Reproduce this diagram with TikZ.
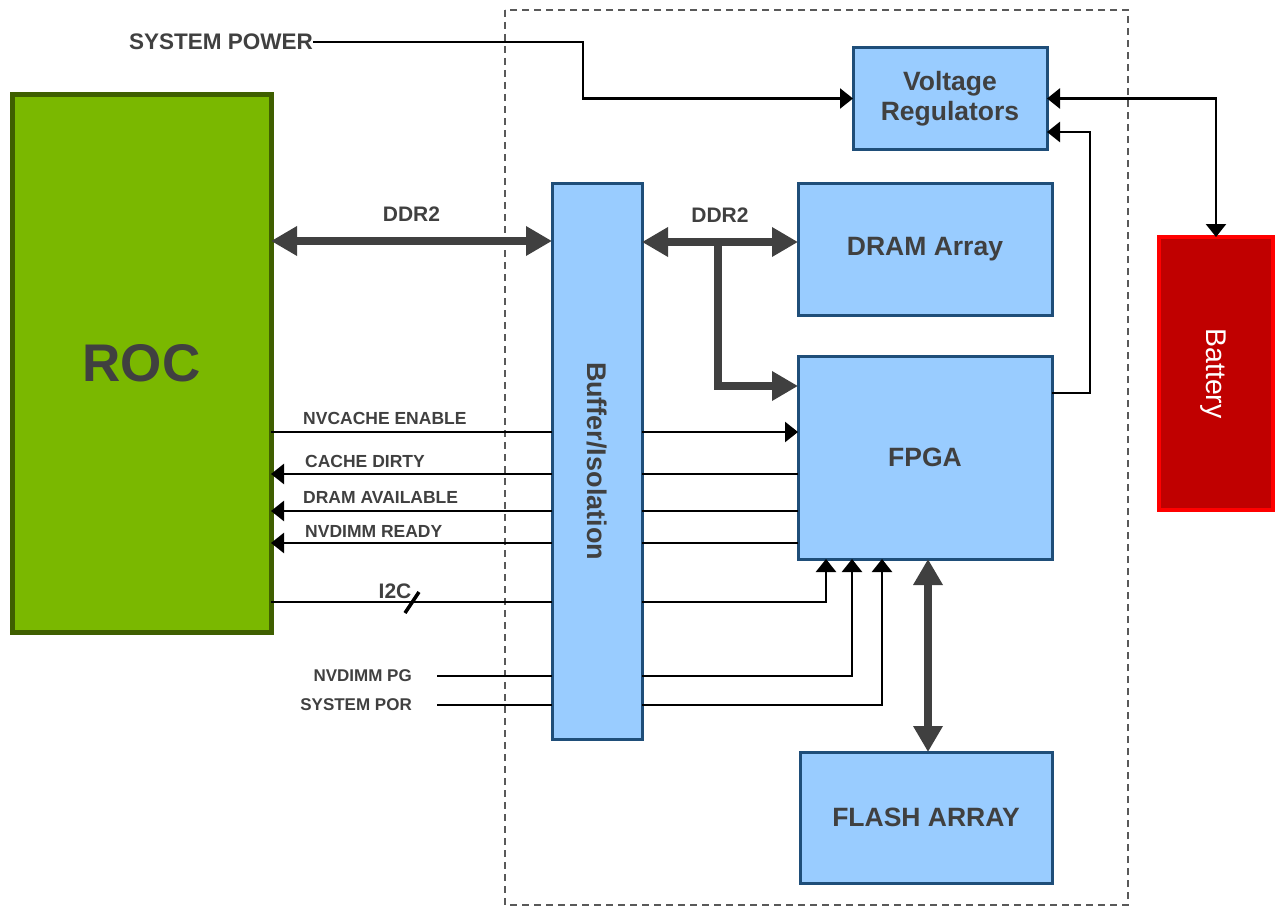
\documentclass[tikz,border=0pt]{standalone}
\usepackage{fontspec}
\setmainfont{Liberation Sans}
\usepackage{tikz}
\usetikzlibrary{arrows.meta,positioning,calc}
\usepackage{xcolor}
\definecolor{rocgreen}{HTML}{7AB800}
\definecolor{rocedge}{HTML}{3F5F00}
\definecolor{boxblue}{HTML}{99CCFF}
\definecolor{boxedge}{HTML}{1F4E79}
\definecolor{darkgray}{HTML}{404040}
\definecolor{batfill}{HTML}{C00000}
\definecolor{batedge}{HTML}{FF0000}

\begin{document}
\begin{tikzpicture}[x=1pt,y=-1pt,
  blk/.style={draw=boxedge,fill=boxblue,line width=3,inner sep=0,outer sep=0,
    text=darkgray,font=\fontsize{26.5}{30}\selectfont\bfseries,align=center},
  lbl/.style={text=darkgray,font=\fontsize{17.5}{20}\selectfont\bfseries,inner sep=0},
  sig/.style={line width=2.5,black},
  bus/.style={line width=8,darkgray,{Triangle[length=26,width=28]}-{Triangle[length=26,width=28]}},
  tip/.style={-{Triangle[length=13,width=20]}}]
  \useasboundingbox (0,0) rectangle (1275,907);

  % boundary of the module
  \draw[gray!70!black,dashed,line width=1.5,dash pattern=on 7pt off 5pt] (505,10) rectangle (1128,905);

  \node[draw=rocedge,fill=rocgreen,line width=5,inner sep=0,outer sep=0,
    minimum width=259,minimum height=537,text=darkgray,
    font=\fontsize{53}{58}\selectfont\bfseries] (roc) at (141.5,363.5) {ROC};
  \node[blk,minimum width=194,minimum height=101] (vr) at (950,98.5) {Voltage\\Regulators};
  \node[blk,minimum width=90,minimum height=556] (buf) at (597,461) {};
  \node[text=darkgray,font=\fontsize{27}{30}\selectfont\bfseries,rotate=-90] (buftext) at (buf.center) {Buffer/Isolation};
  \node[blk,minimum width=254,minimum height=132] (dram) at (925,249) {DRAM Array};
  \node[blk,minimum width=254,minimum height=203] (fpga) at (925,457.5) {FPGA};
  \node[blk,minimum width=252,minimum height=131] (flash) at (926,817.5) {FLASH ARRAY};
  \node[draw=batedge,fill=batfill,line width=4,inner sep=0,outer sep=0,
    minimum width=114,minimum height=273] (bat) at (1216,373.5) {};
  \node[text=white,font=\fontsize{28.5}{30}\selectfont,rotate=-90] (battext) at ($(bat.center)+(-3,0)$) {Battery};

  % power
  \node[lbl,anchor=east,font=\fontsize{22.5}{25}\selectfont\bfseries] (spw) at (313,42) {SYSTEM POWER};
  \draw[sig,tip] (spw.east) -- ++(270,0) |- (vr.west);
  \draw[sig,{Triangle[length=13,width=20]}-{Triangle[length=13,width=20]}] (vr.east) -| (bat.north);
  \draw[sig,tip] ($(fpga.north east)+(0,37)$) -- ++(38,0) |- ($(vr.south east)+(0,-17)$);

  % DDR2 buses
  \draw[bus] (roc.east |- 0,241) -- (buf.west |- 0,241)
    node[midway,above=12pt,text=darkgray,font=\fontsize{21}{24}\selectfont\bfseries] (ddra) {DDR2};
  \draw[bus] (buf.east |- 0,242) -- (dram.west |- 0,242)
    node[midway,above=12pt,text=darkgray,font=\fontsize{21}{24}\selectfont\bfseries] (ddrb) {DDR2};
  \coordinate (ddrj) at (718,242);
  \draw[line width=8,darkgray,-{Triangle[length=26,width=28]}] (ddrj) |- (fpga.west |- 0,386);
  \draw[bus] ($(fpga.south)+(3,0)$) -- ($(flash.north)+(2,0)$);

  % control signals
  \coordinate (r1) at (0,432);
  \coordinate (r2) at (0,474);
  \coordinate (r3) at (0,511);
  \coordinate (r4) at (0,543);
  \coordinate (r5) at (0,602);
  \node[lbl,anchor=base west] (l1) at (303,424) {NVCACHE ENABLE};
  \node[lbl,anchor=base west] (l2) at (305,467) {CACHE DIRTY};
  \node[lbl,anchor=base west] (l3) at (303,503) {DRAM AVAILABLE};
  \node[lbl,anchor=base west] (l4) at (305,537) {NVDIMM READY};
  \draw[sig] (roc.east |- r1) -- (buf.west |- r1);
  \draw[sig,tip] (buf.east |- r1) -- (fpga.west |- r1);
  \foreach \r in {r2,r3,r4} {
    \draw[sig,tip] (buf.west |- \r) -- (roc.east |- \r);
    \draw[sig] (fpga.west |- \r) -- (buf.east |- \r);
  }

  \node[lbl,anchor=base,font=\fontsize{21}{24}\selectfont\bfseries] (l5) at (395,598) {I2C};
  \draw[sig] (roc.east |- r5) -- (buf.west |- r5);
  \draw[line width=3.5] (405,613) -- (419,592);
  \draw[sig,tip] (buf.east |- r5) -| ($(fpga.south west)+(28,0)$);

  \node[lbl,anchor=east,inner xsep=25,font=\fontsize{17}{20}\selectfont\bfseries] (pg) at (437,676) {NVDIMM PG};
  \node[lbl,anchor=east,inner xsep=25,font=\fontsize{17}{20}\selectfont\bfseries] (por) at (437,705) {SYSTEM POR};
  \draw[sig] (pg.east) -- (buf.west |- pg.east);
  \draw[sig,tip] (buf.east |- pg.east) -| ($(fpga.south west)+(54,0)$);
  \draw[sig] (por.east) -- (buf.west |- por.east);
  \draw[sig,tip] (buf.east |- por.east) -| ($(fpga.south west)+(84,0)$);
\end{tikzpicture}
\end{document}
